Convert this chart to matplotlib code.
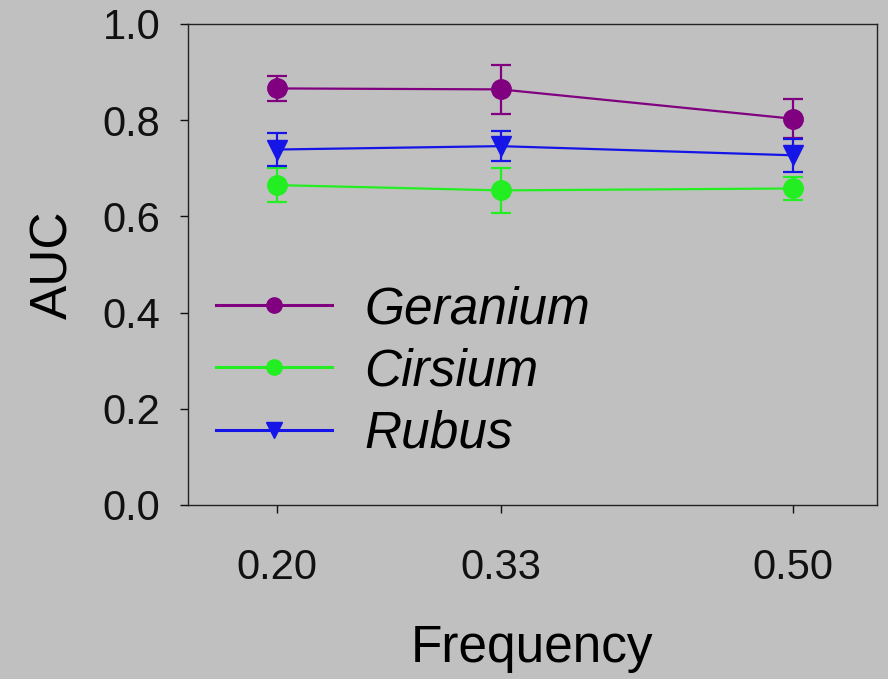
import matplotlib
matplotlib.use('Agg')
import matplotlib.pyplot as plt
from matplotlib.lines import Line2D

plt.rcParams['font.family'] = ['Liberation Sans', 'DejaVu Sans']

freq = [0.20, 0.33, 0.50]
freq_labels = ['0.20', '0.33', '0.50']

species = ['Geranium', 'Cirsium', 'Rubus']
geranium = [0.866, 0.864, 0.803]
geranium_err = [0.026, 0.051, 0.040]
cirsium = [0.665, 0.654, 0.658]
cirsium_err = [0.035, 0.046, 0.023]
rubus = [0.739, 0.746, 0.727]
rubus_err = [0.034, 0.031, 0.034]

colors = ['#800080', '#22ee22', '#1515e8']
markers = ['o', 'o', 'v']

bg = '#c0c0c0'
fig = plt.figure(figsize=(8.88, 6.79), dpi=100, facecolor=bg)
ax = fig.add_axes([0.2117, 0.2563, 0.7759, 0.7084], facecolor=bg)

handles = []
for vals, errs, c, m, name in zip([geranium, cirsium, rubus],
                                  [geranium_err, cirsium_err, rubus_err],
                                  colors, markers, species):
    ax.errorbar(freq, vals, yerr=errs, color=c, marker=m, ms=14, lw=1.6,
                capsize=7, elinewidth=1.6, capthick=1.6)
    handles.append(Line2D([], [], color=c, marker=m, ms=11, lw=2.2, label=name))

ax.set_xlim(0.148, 0.549)
ax.set_ylim(0, 1.0)
ax.set_xticks(freq)
ax.set_xticklabels(freq_labels)
ax.set_yticks([0.0, 0.2, 0.4, 0.6, 0.8, 1.0])
ax.set_yticklabels(['0.0', '0.2', '0.4', '0.6', '0.8', '1.0'])
ax.tick_params(direction='out', length=6, width=1, labelsize=30, colors='#111111')
ax.tick_params(axis='y', pad=14)
ax.tick_params(axis='x', pad=25)
for s in ax.spines.values():
    s.set_linewidth(1)
    s.set_color('#222222')

ax.set_xlabel('Frequency', fontsize=37, labelpad=26)
ax.set_ylabel('AUC', fontsize=37, labelpad=17)

leg = ax.legend(handles=handles, loc='lower left', bbox_to_anchor=(-0.026, 0.0),
                frameon=False, fontsize=37, handlelength=2.25, handletextpad=0.63,
                labelspacing=0.26, borderpad=0.4)
for t in leg.get_texts():
    t.set_fontstyle('italic')

fig.savefig('out.png', dpi=100, facecolor=bg)
